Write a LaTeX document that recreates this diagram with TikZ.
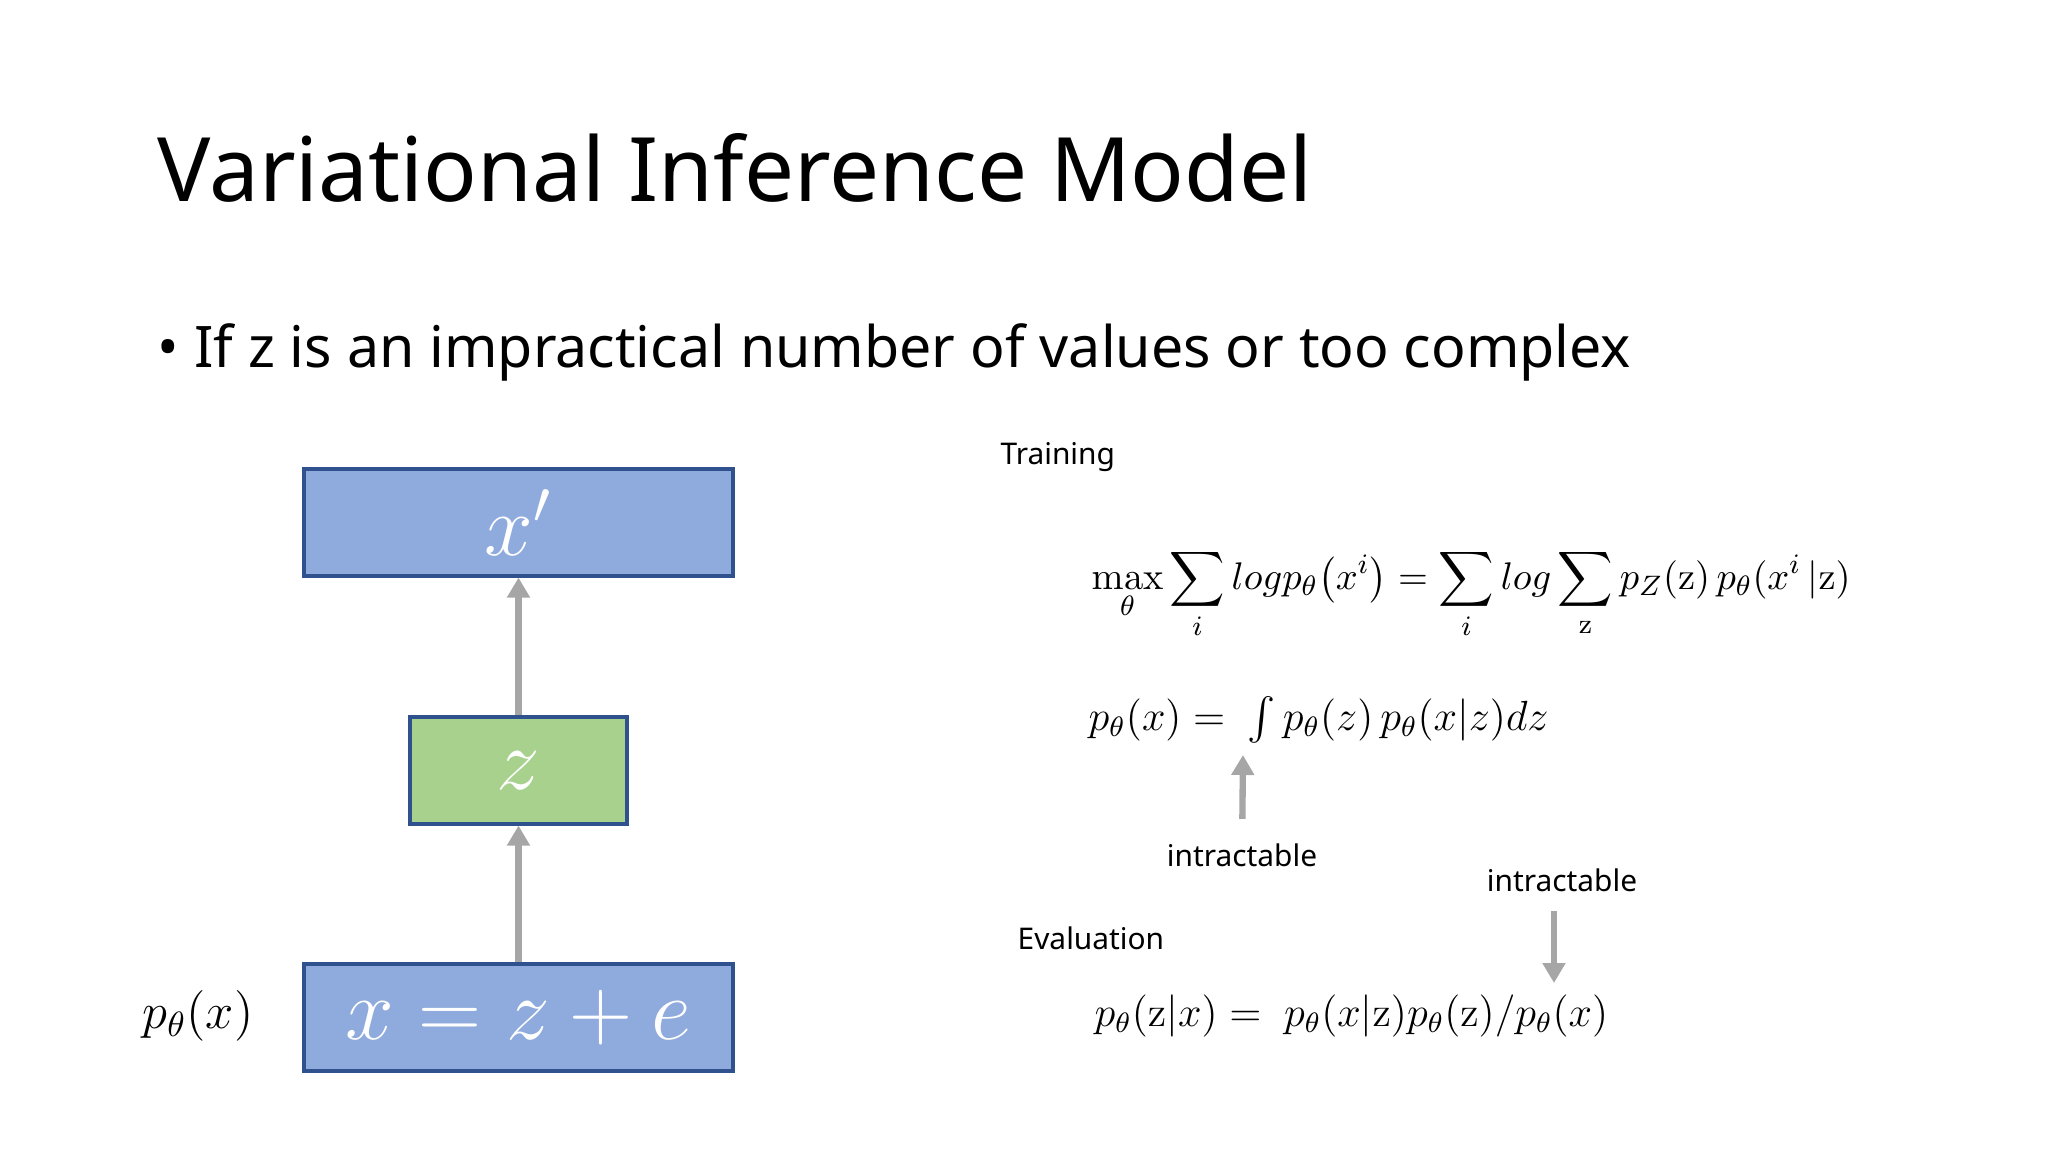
\documentclass[tikz,border=0pt]{standalone}
\usepackage{amsmath}
\usepackage[no-math]{fontspec}
\setmainfont{Noto Sans}
\usetikzlibrary{arrows.meta,positioning}

\definecolor{boxblue}{HTML}{8FAADC}
\definecolor{boxgreen}{HTML}{A9D18E}
\definecolor{boxline}{HTML}{2F528F}
\definecolor{arrgray}{HTML}{A6A6A6}

\tikzset{
  varbox/.style={draw=boxline,line width=0.9pt,text=white,minimum height=1.07cm,
    font=\fontsize{26}{30}\selectfont},
  garrow/.style={draw=arrgray,line width=1.8pt,-{Triangle[width=0.22cm,length=0.2cm]}},
  lbl/.style={font=\fontsize{8.5}{10}\selectfont,inner sep=0pt},
  eqn/.style={font=\fontsize{12}{14}\selectfont,inner sep=0pt,anchor=west}
}

\begin{document}
\begin{tikzpicture}
  \useasboundingbox (0,0) rectangle (20.48,-11.52);

  \node[anchor=base west,inner sep=0pt,font=\fontsize{25.3}{30}\selectfont] (title) at (1.57,-2.02)
    {Variational Inference Model};
  \node[anchor=base west,inner sep=0pt,font=\fontsize{16.3}{20}\selectfont] (bullet) at (1.57,-3.68)
    {• If z is an impractical number of values or too complex};

  % model
  \begin{scope}[every node/.style={varbox}]
    \node[fill=boxblue,minimum width=4.29cm]  (xp) at (5.185,-5.225)  {$x'$\hspace{0.24cm}};
    \node[fill=boxgreen,minimum width=2.17cm] (z)  at (5.185,-7.705)  {$z$\hspace{0.24cm}};
    \node[fill=boxblue,minimum width=4.29cm]  (x)  at (5.185,-10.175) {$x = z + e$\hspace{0.24cm}};
  \end{scope}

  \node[font=\fontsize{13.8}{16}\selectfont] (px) at (1.98,-10.16) {$p_\theta(x)$};

  \path (x) edge[garrow] (z);
  \path (z) edge[garrow] (xp);

  % training
  \node[lbl,anchor=west] (train) at (10.0,-4.57) {Training};
  \node[eqn,font=\fontsize{11.4}{14}\selectfont] (eq1) at (10.91,-5.94)
    {$\displaystyle \max_{\theta}\sum_{i} log p_{\theta}\bigl(x^{i}\bigr) = \sum_{i} log \sum_{\mathrm{z}} p_{Z}(\mathrm{z})\, p_{\theta}(x^{i}\,|\mathrm{z})$};
  \node[eqn,font=\fontsize{11.7}{14}\selectfont] (eq2) at (10.88,-7.20)
    {$p_{\theta}(x) =\ \int p_{\theta}(z)\, p_{\theta}(x|z)dz$};

  \node[lbl] (int1) at (12.42,-8.55) {intractable};
  \coordinate (c1) at (12.43,-7.55);
  \path (int1) edge[garrow,shorten <=0.24cm] (c1);

  % evaluation
  \node[lbl] (int2) at (15.62,-8.80) {intractable};
  \coordinate (c2) at (15.54,-9.83);
  \draw[garrow,shorten <=0.19cm] (int2.south -| c2) -- (c2);

  \node[lbl,anchor=west] (eval) at (10.17,-9.38) {Evaluation};
  \node[eqn] (eq3) at (10.94,-10.16)
    {$p_{\theta}(\mathrm{z}|x) =\ p_{\theta}(x|\mathrm{z})p_{\theta}(\mathrm{z})/p_{\theta}(x)$};

\end{tikzpicture}
\end{document}
